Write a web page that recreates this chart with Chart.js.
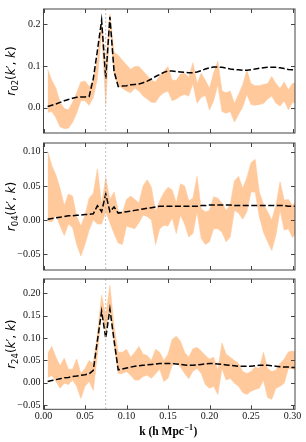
<!DOCTYPE html>
<html>
<head>
<meta charset="utf-8">
<script src="https://cdn.jsdelivr.net/npm/chart.js@4.4.0/dist/chart.umd.min.js"></script>
<style>
html, body { margin: 0; padding: 0; background: #fff; }
#wrap { position: relative; width: 306px; height: 442px; overflow: hidden; }
#wrap canvas { position: absolute; left: 0; }
</style>
</head>
<body>
<div id="wrap">
  <canvas id="c1" width="306" height="142" style="top:0px;width:306px;height:142px"></canvas>
  <canvas id="c2" width="306" height="145" style="top:134px;width:306px;height:145px"></canvas>
  <canvas id="c3" width="306" height="172" style="top:270px;width:306px;height:172px"></canvas>
</div>
<script>
// k bins (h/Mpc)
const kValues = [0.005, 0.010, 0.015, 0.020, 0.025, 0.030, 0.035, 0.040, 0.045, 0.050,
                 0.055, 0.060, 0.065, 0.070, 0.075, 0.080, 0.085, 0.090, 0.095, 0.100,
                 0.105, 0.110, 0.115, 0.120, 0.125, 0.130, 0.135, 0.140, 0.145, 0.150,
                 0.155, 0.160, 0.165, 0.170, 0.175, 0.180, 0.185, 0.190, 0.195, 0.200,
                 0.205, 0.210, 0.215, 0.220, 0.225, 0.230, 0.235, 0.240, 0.245, 0.250,
                 0.255, 0.260, 0.265, 0.270, 0.275, 0.280, 0.285, 0.290, 0.295, 0.300, 0.305];

// r02
const r02Upper = [0.092, 0.066, 0.047, 0.013, -0.002, -0.005, 0.013, 0.036, 0.062, 0.064,
                  0.051, 0.066, 0.118, 0.204, 0.100, 0.225, 0.133, 0.126, 0.114, 0.103,
                  0.092, 0.099, 0.099, 0.088, 0.077, 0.066, 0.062, 0.077, 0.088, 0.099,
                  0.066, 0.066, 0.081, 0.083, 0.073, 0.108, 0.058, 0.083, 0.066, 0.047,
                  0.084, 0.112, 0.040, 0.036, 0.040, 0.010, 0.032, 0.055, 0.090, 0.058,
                  0.053, 0.053, 0.056, 0.058, 0.075, 0.058, 0.046, 0.062, 0.043, 0.058, 0.060];
const r02Lower = [-0.011, -0.009, -0.024, -0.046, -0.050, -0.049, -0.035, -0.013, 0.017, 0.017,
                  0.006, 0.025, 0.070, 0.185, 0.008, 0.204, 0.080, 0.055, 0.047, 0.040,
                  0.036, 0.047, 0.040, 0.028, 0.021, 0.013, 0.013, 0.028, 0.036, 0.040,
                  0.017, 0.021, 0.028, 0.032, 0.028, 0.058, 0.011, 0.025, 0.030, -0.005,
                  0.017, 0.056, -0.009, -0.013, -0.009, -0.034, -0.016, 0.002, 0.032, 0.008,
                  0.006, 0.008, 0.010, 0.021, 0.028, 0.011, 0.004, 0.017, -0.005, 0.013, 0.010];
const r02Mean = [0.003, 0.006, 0.009, 0.013, 0.017, 0.020, 0.023, 0.025, 0.026, 0.026,
                 0.027, 0.070, 0.138, 0.210, 0.070, 0.218, 0.088, 0.051, 0.052, 0.053,
                 0.055, 0.056, 0.057, 0.060, 0.064, 0.069, 0.075, 0.080, 0.085, 0.088,
                 0.088, 0.087, 0.086, 0.085, 0.084, 0.084, 0.086, 0.089, 0.093, 0.096,
                 0.098, 0.098, 0.097, 0.095, 0.093, 0.092, 0.091, 0.090, 0.090, 0.091,
                 0.093, 0.095, 0.096, 0.097, 0.097, 0.097, 0.096, 0.094, 0.092, 0.091, 0.090];

// r04
const r04Upper = [0.101, 0.080, 0.066, 0.046, 0.021, 0.038, 0.035, 0.005, -0.009, 0.007,
                  0.032, 0.039, 0.075, 0.023, 0.062, 0.030, 0.041, 0.014, 0.010, 0.030,
                  0.035, 0.030, 0.025, 0.050, 0.059, 0.048, 0.012, 0.028, 0.040, 0.048,
                  0.044, 0.025, 0.053, 0.050, 0.028, 0.032, 0.064, 0.016, 0.012, 0.014,
                  0.034, 0.032, 0.025, 0.014, 0.023, 0.057, 0.064, 0.046, 0.062, 0.084,
                  0.089, 0.041, 0.023, 0.012, 0.000, 0.021, 0.056, 0.029, 0.030, 0.021, 0.029];
const r04Lower = [-0.002, -0.003, 0.007, -0.009, -0.023, -0.006, -0.011, -0.036, -0.053, -0.036,
                  -0.015, 0.000, -0.006, -0.006, 0.012, -0.004, -0.020, -0.034, -0.036, -0.009,
                  -0.011, -0.013, -0.004, 0.007, 0.005, 0.000, -0.036, -0.013, -0.008, -0.009,
                  0.003, -0.020, 0.007, -0.006, -0.025, -0.020, 0.012, -0.027, -0.036, -0.032,
                  -0.013, -0.013, -0.018, -0.032, -0.025, 0.014, 0.010, 0.001, 0.012, 0.041,
                  0.041, 0.005, -0.018, -0.032, -0.045, -0.022, 0.014, -0.015, -0.013, -0.026, -0.018];
const r04Mean = [0.001, 0.002, 0.003, 0.004, 0.005, 0.006, 0.006, 0.007, 0.007, 0.008,
                 0.008, 0.009, 0.021, 0.012, 0.038, 0.012, 0.019, 0.010, 0.011, 0.012,
                 0.013, 0.014, 0.015, 0.016, 0.017, 0.018, 0.019, 0.020, 0.020, 0.020,
                 0.020, 0.020, 0.020, 0.020, 0.020, 0.020, 0.020, 0.021, 0.021, 0.022,
                 0.022, 0.022, 0.022, 0.022, 0.022, 0.021, 0.021, 0.021, 0.021, 0.021,
                 0.021, 0.021, 0.021, 0.021, 0.021, 0.021, 0.021, 0.021, 0.020, 0.020, 0.020];

// r24
const r24Upper = [0.066, 0.081, 0.057, 0.038, 0.055, 0.030, 0.030, 0.053, 0.021, 0.032,
                  0.050, 0.043, 0.110, 0.196, 0.150, 0.218, 0.126, 0.068, 0.068, 0.075,
                  0.057, 0.068, 0.081, 0.064, 0.061, 0.050, 0.075, 0.068, 0.050, 0.064,
                  0.097, 0.104, 0.093, 0.068, 0.057, 0.076, 0.079, 0.071, 0.061, 0.053,
                  0.057, 0.028, 0.089, 0.064, 0.057, 0.050, 0.043, 0.025, 0.021, 0.025,
                  0.035, 0.032, 0.068, 0.032, 0.025, 0.028, 0.043, 0.053, 0.069, 0.071, 0.068];
const r24Lower = [0.012, 0.016, 0.003, -0.012, -0.001, -0.004, 0.006, -0.008, -0.035, -0.008,
                  0.003, -0.017, 0.064, 0.162, 0.112, 0.169, 0.086, 0.021, 0.021, 0.025,
                  0.017, 0.006, 0.006, 0.014, 0.017, 0.010, 0.020, 0.030, 0.003, 0.010,
                  0.039, 0.046, 0.035, 0.021, 0.009, 0.026, 0.032, 0.021, -0.004, -0.012,
                  -0.008, -0.026, 0.032, 0.006, 0.010, -0.001, -0.008, -0.022, -0.026, -0.019,
                  -0.015, -0.012, 0.006, -0.033, -0.037, -0.012, -0.008, -0.001, 0.032, 0.032, 0.025];
const r24Mean = [0.003, 0.005, 0.007, 0.009, 0.011, 0.012, 0.014, 0.015, 0.017, 0.018,
                 0.020, 0.028, 0.095, 0.160, 0.100, 0.165, 0.095, 0.029, 0.031, 0.033,
                 0.035, 0.037, 0.038, 0.039, 0.040, 0.041, 0.042, 0.043, 0.043, 0.043,
                 0.043, 0.042, 0.041, 0.040, 0.039, 0.039, 0.040, 0.041, 0.042, 0.043,
                 0.043, 0.042, 0.041, 0.040, 0.039, 0.038, 0.037, 0.037, 0.037, 0.037,
                 0.038, 0.039, 0.039, 0.039, 0.038, 0.037, 0.036, 0.035, 0.035, 0.034, 0.034];

const xTicks = [0.00, 0.05, 0.10, 0.15, 0.20, 0.25, 0.30];
const xTickLabels = ['0.00', '0.05', '0.10', '0.15', '0.20', '0.25', '0.30'];
const r02Ticks = [0.0, 0.1, 0.2];
const r02TickLabels = ['0.0', '0.1', '0.2'];
const r04Ticks = [-0.05, 0.00, 0.05, 0.10];
const r04TickLabels = ['\u22120.05', '0.00', '0.05', '0.10'];
const r24Ticks = [-0.05, 0.00, 0.05, 0.10, 0.15, 0.20];
const r24TickLabels = ['\u22120.05', '0.00', '0.05', '0.10', '0.15', '0.20'];
const kMark = 0.075;

const bandColor = '#ffc99c';
const serif = "'Liberation Serif', 'DejaVu Serif', serif";
const mathFont = "'DejaVu Sans', sans-serif";

function toPoints(ys) {
    return kValues.map((k, i) => ({ x: k, y: ys[i] }));
}

const framePlugin = {
    id: 'frame',
    afterDatasetsDraw(chart) {
        const a = chart.chartArea, ctx = chart.ctx;
        const px = chart.scales.x.getPixelForValue(kMark);
        ctx.save();
        ctx.strokeStyle = '#b0b0b0';
        ctx.lineWidth = 0.8;
        ctx.setLineDash([2, 2]);
        ctx.beginPath();
        ctx.moveTo(px, a.top);
        ctx.lineTo(px, a.bottom);
        ctx.stroke();
        ctx.restore();
    },
    afterDraw(chart, args, opts) {
        const a = chart.chartArea, ctx = chart.ctx;
        const xs = chart.scales.x, ys = chart.scales.y;
        ctx.save();
        ctx.strokeStyle = '#444';
        ctx.lineWidth = 1;
        ctx.strokeRect(a.left, a.top, a.right - a.left, a.bottom - a.top);
        ctx.beginPath();
        xTicks.forEach(v => {
            const p = Math.round(xs.getPixelForValue(v)) + 0.5;
            ctx.moveTo(p, a.bottom); ctx.lineTo(p, a.bottom - 4);
            ctx.moveTo(p, a.top); ctx.lineTo(p, a.top + 4);
        });
        opts.yTicks.forEach(v => {
            const p = Math.round(ys.getPixelForValue(v)) + 0.5;
            ctx.moveTo(a.left, p); ctx.lineTo(a.left + 4, p);
            ctx.moveTo(a.right, p); ctx.lineTo(a.right - 4, p);
        });
        ctx.stroke();

        // y axis title: r_sub(k', k)
        const parts = [
            { t: 'r', f: 'italic 12px ' + mathFont, dy: 0 },
            { t: opts.sub, f: '8.5px ' + mathFont, dy: 2.5 },
            { t: '(', f: '12px ' + mathFont, dy: 0 },
            { t: 'k', f: 'italic 12px ' + mathFont, dy: 0 },
            { t: '\u2032', f: '12px ' + mathFont, dy: 0 },
            { t: ', ', f: '12px ' + mathFont, dy: 0 },
            { t: 'k', f: 'italic 12px ' + mathFont, dy: 0 },
            { t: ')', f: '12px ' + mathFont, dy: 0 }
        ];
        let total = 0;
        parts.forEach(p => { ctx.font = p.f; p.w = ctx.measureText(p.t).width; total += p.w; });
        ctx.translate(15, (a.top + a.bottom) / 2);
        ctx.rotate(-Math.PI / 2);
        ctx.fillStyle = '#000';
        ctx.textBaseline = 'alphabetic';
        let x = -total / 2;
        parts.forEach(p => { ctx.font = p.f; ctx.fillText(p.t, x, p.dy); x += p.w; });
        ctx.restore();

        if (opts.xTitle) {
            ctx.save();
            ctx.fillStyle = '#000';
            const main = 'k (h Mpc', sup = '\u22121', end = ')';
            const f1 = 'bold 11.5px ' + serif, f2 = 'bold 8px ' + serif;
            ctx.font = f1; const w1 = ctx.measureText(main).width, w3 = ctx.measureText(end).width;
            ctx.font = f2; const w2 = ctx.measureText(sup).width;
            let x0 = (a.left + a.right) / 2 - (w1 + w2 + w3) / 2 - 1.5;
            const base = 434.5 - chart.canvas.offsetTop;
            ctx.font = f1; ctx.fillText(main, x0, base); x0 += w1;
            ctx.font = f2; ctx.fillText(sup, x0 + 0.5, base - 4.5); x0 += w2 + 1;
            ctx.font = f1; ctx.fillText(end, x0, base);
            ctx.restore();
        }
    }
};

function makePanel(id, lower, upper, mean, yMin, yMax, yTicks, yTickLabels, sub, bottomAxis, pad) {
    const ctx = document.getElementById(id).getContext('2d');
    return new Chart(ctx, {
        type: 'line',
        data: {
            datasets: [
                // mean first so it is drawn on top of the band
                { data: toPoints(mean), borderColor: '#000', borderWidth: 1.5, borderDash: [6, 2.5], fill: false, pointRadius: 0 },
                { data: toPoints(lower), borderColor: bandColor, borderWidth: 0.6, fill: false, pointRadius: 0 },
                { data: toPoints(upper), borderColor: bandColor, borderWidth: 0.6, backgroundColor: bandColor, fill: '-1', pointRadius: 0 }
            ]
        },
        options: {
            responsive: false,
            animation: false,
            layout: { padding: pad },
            elements: { line: { tension: 0 } },
            plugins: {
                legend: { display: false },
                tooltip: { enabled: false },
                frame: { yTicks: yTicks, sub: sub, xTitle: bottomAxis }
            },
            scales: {
                x: {
                    type: 'linear',
                    min: 0,
                    max: 0.303,
                    afterBuildTicks: s => { s.ticks = xTicks.map(v => ({ value: v })); },
                    afterFit: s => { s.height = bottomAxis ? 32.7 : 0; },
                    grid: { display: false, drawTicks: false },
                    border: { display: false },
                    ticks: {
                        display: bottomAxis,
                        autoSkip: false,
                        maxRotation: 0,
                        padding: 1,
                        color: '#111',
                        font: { family: serif, size: 10 },
                        callback: (v, i) => xTickLabels[i]
                    }
                },
                y: {
                    min: yMin,
                    max: yMax,
                    afterBuildTicks: s => { s.ticks = yTicks.map(v => ({ value: v })); },
                    afterFit: s => { s.width = 43.5; },
                    grid: { display: false, drawTicks: false },
                    border: { display: false },
                    ticks: {
                        autoSkip: false,
                        padding: 3,
                        color: '#111',
                        font: { family: serif, size: 10 },
                        callback: (v, i) => yTickLabels[i]
                    }
                }
            }
        },
        plugins: [framePlugin]
    });
}

makePanel('c1', r02Lower, r02Upper, r02Mean, -0.0605, 0.237, r02Ticks, r02TickLabels, '02', false,
          { top: 5, bottom: 4, left: 0, right: 11 });
makePanel('c2', r04Lower, r04Upper, r04Mean, -0.0736, 0.113, r04Ticks, r04TickLabels, '04', false,
          { top: 4, bottom: 4.7, left: 0, right: 11 });
makePanel('c3', r24Lower, r24Upper, r24Mean, -0.0593, 0.232, r24Ticks, r24TickLabels, '24', true,
          { top: 4.3, bottom: 0, left: 0, right: 11 });
</script>
</body>
</html>
